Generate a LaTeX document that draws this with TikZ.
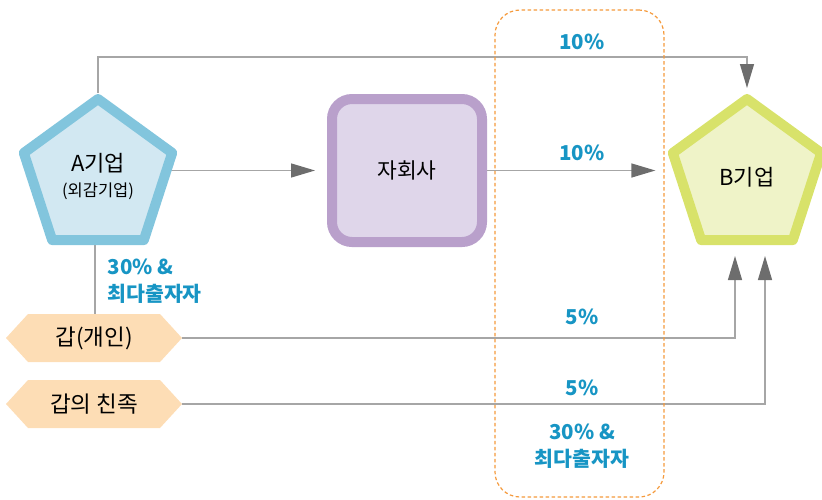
\documentclass[tikz,border=0pt]{standalone}
\usepackage{fontspec}
\setmainfont{Noto Sans CJK KR}
\usetikzlibrary{shapes.geometric,shapes.symbols,arrows.meta,backgrounds}
\definecolor{afill}{HTML}{D2E8F2}
\definecolor{aline}{HTML}{82C5DD}
\definecolor{sfill}{HTML}{DFD6EA}
\definecolor{sline}{HTML}{B9A0CB}
\definecolor{bfill}{HTML}{EFF3C8}
\definecolor{bline}{HTML}{D8E26A}
\definecolor{hfill}{HTML}{FDDDB5}
\definecolor{lblue}{HTML}{1795C4}
\definecolor{linegray}{HTML}{A6A6A6}
\definecolor{arrgray}{HTML}{6D6D6D}
\definecolor{zoneor}{HTML}{F59A3C}
\tikzset{
  firm/.style={regular polygon, regular polygon sides=5, minimum size=156pt, inner sep=0pt,
    line width=10pt, line join=round, font=\fontsize{22}{26}\selectfont, align=center},
  subbox/.style={rectangle, rounded corners=20pt, minimum width=150pt, minimum height=143pt,
    line width=10pt, fill=sfill, draw=sline, font=\fontsize{21.5}{26}\selectfont},
  person/.style={signal, signal to=west and east, signal pointer angle=95, fill=hfill,
    minimum width=176pt, minimum height=48pt, inner sep=0pt, font=\fontsize{22.5}{26}\selectfont},
  pct/.style={text=lblue, font=\bfseries\fontsize{20.5}{27}\selectfont, align=center},
  conn/.style={draw=linegray, line width=1.3pt},
  arr/.style={conn, -{Triangle[length=24pt,width=14pt,color=arrgray]}},
  zone/.style={draw=zoneor, line width=1.2pt, dash pattern=on 3.5pt off 2.5pt, rounded corners=25pt,
    minimum width=169pt, minimum height=487pt}
}
\begin{document}
\begin{tikzpicture}[x=1pt,y=-1pt]
\useasboundingbox (0,0) rectangle (822,499);
\node[zone] (zonebox) at (579.5,253.5) {};
\node[firm, fill=afill, draw=aline] (A) at (98,177) {A기업\\[-1pt]{\fontsize{16.5}{19}\selectfont (외감기업)}};
\node[firm, fill=bfill, draw=bline] (B) at (747,177) {B기업};
\node[subbox] (S) at (407,170.5) {자회사};
\node[person] (G1) at (94,338) {갑(개인)};
\node[person] (G2) at (94,404) {갑의 친족};
\coordinate (t1) at (98,57);
\coordinate (btop) at (747,88);
\coordinate (b1) at (735,256);
\coordinate (b2) at (765,256);
\node[pct] (p1) at (582,42) {10\%};
\node[pct] (p2) at (582,153) {10\%};
\node[pct] (p3) at (582,317) {5\%};
\node[pct] (p4) at (582,388) {5\%};
\node[pct] (p5) at (582,446) {30\% \&\\최다출자자};
\node[pct, anchor=west, align=left] (p6) at (104,281) {30\% \&\\최다출자자};
\begin{scope}[on background layer]
\draw[arr] (A.corner 1) -- (t1) -| (btop);
\draw[arr, shorten >=12pt] (A.east |- S.west) -- (S.west);
\draw[arr, shorten >=20pt] (S.east) -- (S.east -| B.west);
\draw[conn] ([xshift=-3pt]A.south) -- ([xshift=-3pt]A.south |- G1.north);
\draw[arr] (G1.east) -| (b1);
\draw[arr] (G2.east) -| (b2);
\end{scope}
\end{tikzpicture}
\end{document}
